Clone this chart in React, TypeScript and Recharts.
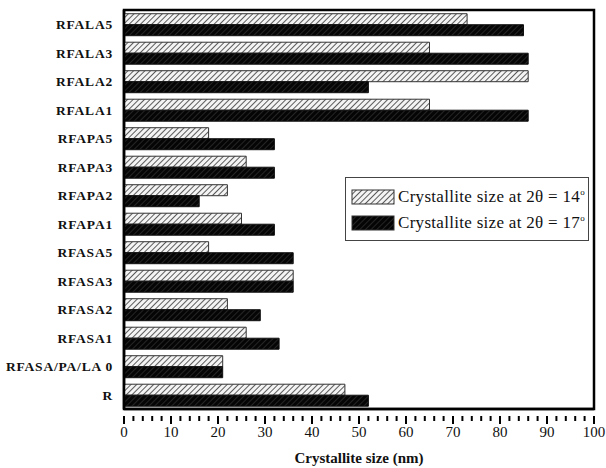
import React, { useEffect } from "react";
import { Bar, BarChart, ReferenceArea, XAxis, YAxis } from "recharts";

const samples = [
  "RFALA5",
  "RFALA3",
  "RFALA2",
  "RFALA1",
  "RFAPA5",
  "RFAPA3",
  "RFAPA2",
  "RFAPA1",
  "RFASA5",
  "RFASA3",
  "RFASA2",
  "RFASA1",
  "RFASA/PA/LA 0",
  "R",
];
const sizeAt14 = [73, 65, 86, 65, 18, 26, 22, 25, 18, 36, 22, 26, 21, 47];
const sizeAt17 = [85, 86, 52, 86, 32, 32, 16, 32, 36, 36, 29, 33, 21, 52];
const majorTicks = [0, 10, 20, 30, 40, 50, 60, 70, 80, 90, 100];

// minor ticks every 2 nm, labels only on the majors
const tickPositions = Array.from({ length: 51 }, (_, i) => i * 2);

const data = samples.map((name, i) => ({
  name,
  s14: sizeAt14[i],
  s17: sizeAt17[i],
}));

const serif = "'Liberation Serif', 'Times New Roman', serif";

function XTick(props: any) {
  const { x, y, payload } = props;
  const major = majorTicks.includes(payload.value);
  return (
    <g>
      <line x1={x} x2={x} y1={y - 1} y2={y + (major ? 7 : 4)} stroke="#000" strokeWidth={2} />
      {major && (
        <text
          x={x}
          y={y + 20}
          textAnchor="middle"
          style={{ fontFamily: serif, fontSize: 15 }}
          fill="#111"
        >
          {payload.value}
        </text>
      )}
    </g>
  );
}

function YTick(props: any) {
  const { x, y, payload } = props;
  return (
    <text
      x={x}
      y={y}
      dy={5}
      textAnchor="end"
      style={{ fontFamily: serif, fontSize: 13.5, fontWeight: "bold", letterSpacing: 0.8 }}
      fill="#111"
    >
      {payload.value}
    </text>
  );
}

function LegendBox() {
  const rows = [
    { fill: "url(#hatchLight)", deg: "14" },
    { fill: "url(#hatchDark)", deg: "17" },
  ];
  return (
    <div
      style={{
        position: "absolute",
        top: 177,
        left: 345,
        border: "1.5px solid #444",
        width: 244,
        height: 64,
        padding: "6px 0 0 5px",
        boxSizing: "border-box",
        background: "#fff",
        fontFamily: serif,
        fontSize: 17,
        letterSpacing: 0.3,
        color: "#111",
      }}
    >
      {rows.map((r) => (
        <div key={r.deg} style={{ display: "flex", alignItems: "center", height: 26 }}>
          <svg width={44} height={16} style={{ marginRight: 3 }}>
            <rect x={1} y={1} width={42} height={14} fill={r.fill} stroke="#333" strokeWidth={1} />
          </svg>
          <span style={{ whiteSpace: "nowrap" }}>
            Crystallite size at 2θ = {r.deg}
            <sup style={{ fontSize: 9 }}>o</sup>
          </span>
        </div>
      ))}
    </div>
  );
}

export default function App() {
  useEffect(() => {
    document.body.style.margin = "0";
  }, []);

  return (
    <div style={{ position: "relative", width: 606, height: 468, background: "#fff" }}>
      <BarChart
        width={606}
        height={468}
        data={data}
        layout="vertical"
        margin={{ top: 10, right: 12, left: 0, bottom: 0 }}
        barCategoryGap="13%"
        barGap={0}
      >
        <defs>
          <pattern id="hatchLight" width={4} height={4} patternUnits="userSpaceOnUse" patternTransform="rotate(45)">
            <rect width={4} height={4} fill="#f4f4f4" />
            <line x1={0} y1={0} x2={0} y2={4} stroke="#333" strokeWidth={1.6} />
          </pattern>
          <pattern id="hatchDark" width={4} height={4} patternUnits="userSpaceOnUse" patternTransform="rotate(45)">
            <rect width={4} height={4} fill="#050505" />
            <line x1={0} y1={0} x2={0} y2={4} stroke="#3a3a3a" strokeWidth={1.2} />
          </pattern>
        </defs>
        <XAxis
          type="number"
          domain={[0, 100]}
          ticks={tickPositions}
          interval={0}
          tickLine={false}
          tick={<XTick />}
          axisLine={{ stroke: "#000", strokeWidth: 2.5 }}
          height={59}
          label={{
            value: "Crystallite size (nm)",
            position: "insideBottom",
            offset: 5,
            style: { fontFamily: serif, fontSize: 15, fontWeight: "bold", fill: "#111" },
          }}
        />
        <YAxis
          type="category"
          dataKey="name"
          width={124}
          tickLine={false}
          tick={<YTick />}
          tickMargin={5}
          interval={0}
          axisLine={{ stroke: "#000", strokeWidth: 2.5 }}
        />
        <ReferenceArea x1={0} x2={100} fill="none" stroke="#000" strokeWidth={2.5} />
        <Bar
          dataKey="s14"
          name="Crystallite size at 2θ = 14°"
          fill="url(#hatchLight)"
          stroke="#333"
          strokeWidth={1}
          isAnimationActive={false}
        />
        <Bar
          dataKey="s17"
          name="Crystallite size at 2θ = 17°"
          fill="url(#hatchDark)"
          stroke="#111"
          strokeWidth={1}
          isAnimationActive={false}
        />
      </BarChart>
      <LegendBox />
    </div>
  );
}
